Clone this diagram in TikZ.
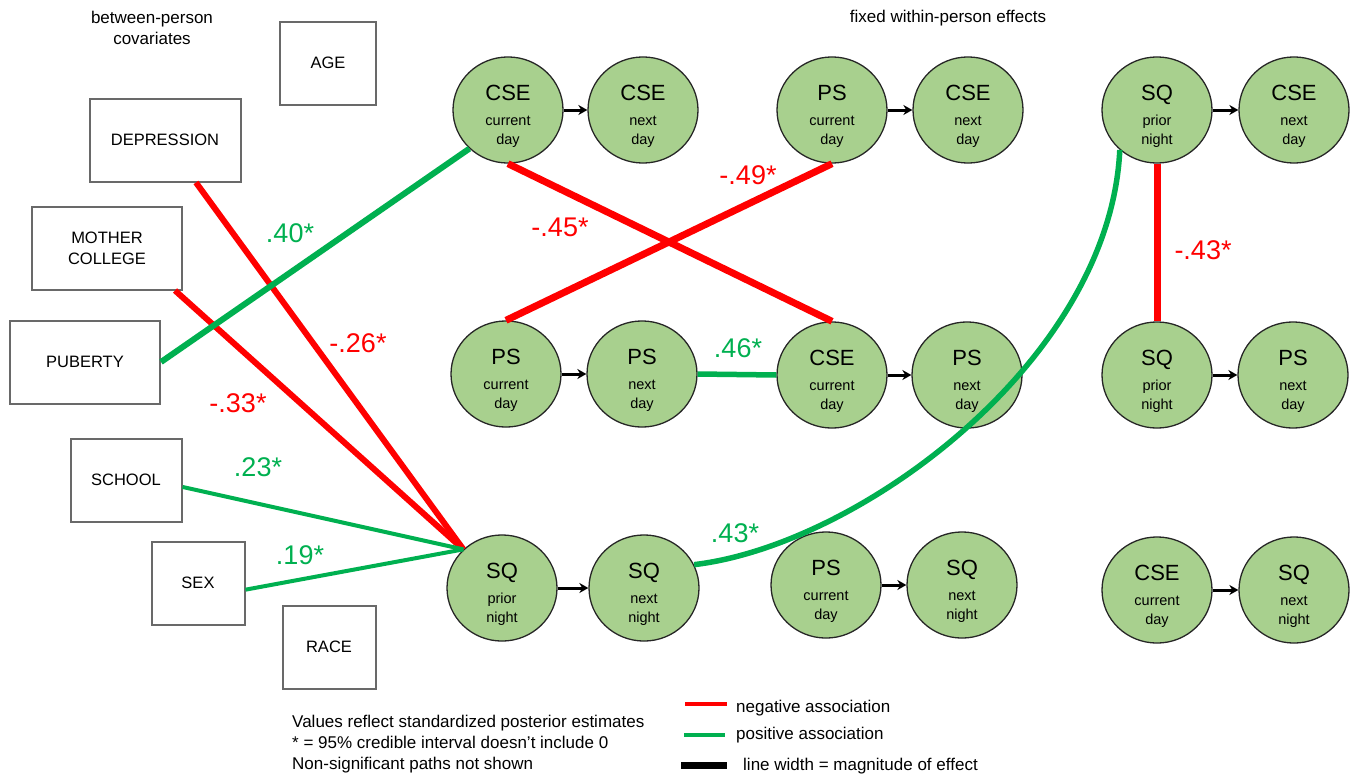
\documentclass[tikz,border=0pt]{standalone}
\usepackage{fontspec}
\setmainfont{Liberation Sans}
\usetikzlibrary{shapes.geometric,arrows.meta}
\definecolor{cfill}{RGB}{168,208,142}
\definecolor{pgreen}{RGB}{0,176,80}
\definecolor{nred}{RGB}{255,0,0}
\definecolor{boxgray}{RGB}{105,105,105}
\newcommand{\ntitle}[1]{{\fontsize{22}{22}\selectfont\rule{0pt}{28pt}#1}}
\begin{document}
\begin{tikzpicture}[x=1pt,y=-1pt,
 circ/.style={ellipse, draw=black!85, line width=1.3pt, fill=cfill, minimum width=110pt, minimum height=106pt, inner sep=0pt, align=center, font=\fontsize{14.5}{19}\selectfont},
 cov/.style={rectangle, draw=boxgray, line width=2pt, inner sep=0pt, align=center, minimum height=83pt, font=\fontsize{16.5}{21}\selectfont},
 lag/.style={draw=black, line width=3pt, -{Stealth[length=9pt,width=10pt]}},
 negline/.style={draw=nred, line width=#1},
 negline/.default=6pt,
 posline/.style={draw=pgreen, line width=#1},
 posline/.default=6pt,
 est/.style={font=\fontsize{27}{27}\selectfont, inner sep=0pt},
 note/.style={font=\fontsize{17}{21}\selectfont, inner sep=0pt}
]
\useasboundingbox (0,0) rectangle (1359,779);

% titles
\node[note, align=center] (t1) at (152,28) {between-person\\covariates};
\node[note] (t2) at (948,18) {fixed within-person effects};

% covariate boxes
\node[cov, minimum width=96pt] (age) at (328,63) {AGE};
\node[cov, minimum width=151pt] (dep) at (165,140) {DEPRESSION};
\node[cov, minimum width=150pt] (mc) at (107,248) {MOTHER\\COLLEGE};
\node[cov, minimum width=150pt] (pub) at (85,362) {PUBERTY};
\node[cov, minimum width=111pt] (sch) at (126,480) {SCHOOL};
\node[cov, minimum width=93pt] (sex) at (198,583) {SEX};
\node[cov, minimum width=93pt] (race) at (329,647) {RACE};

% within-person nodes, row 1
\node[circ] (a1) at (508,110) {\ntitle{CSE}\\[6pt]current\\day};
\node[circ] (a2) at (643,110) {\ntitle{CSE}\\[6pt]next\\day};
\node[circ] (b1) at (832,110) {\ntitle{PS}\\[6pt]current\\day};
\node[circ] (b2) at (968,110) {\ntitle{CSE}\\[6pt]next\\day};
\node[circ] (c1) at (1157,110) {\ntitle{SQ}\\[6pt]prior\\night};
\node[circ] (c2) at (1294,110) {\ntitle{CSE}\\[6pt]next\\day};
% row 2
\node[circ] (d1) at (506,374) {\ntitle{PS}\\[6pt]current\\day};
\node[circ] (d2) at (642,374) {\ntitle{PS}\\[6pt]next\\day};
\node[circ] (e1) at (832,375) {\ntitle{CSE}\\[6pt]current\\day};
\node[circ] (e2) at (967,375) {\ntitle{PS}\\[6pt]next\\day};
\node[circ] (f1) at (1157,375) {\ntitle{SQ}\\[6pt]prior\\night};
\node[circ] (f2) at (1293,375) {\ntitle{PS}\\[6pt]next\\day};
% row 3
\node[circ] (g1) at (502,588) {\ntitle{SQ}\\[6pt]prior\\night};
\node[circ] (g2) at (644,588) {\ntitle{SQ}\\[6pt]next\\night};
\node[circ] (h1) at (826,585) {\ntitle{PS}\\[6pt]current\\day};
\node[circ] (h2) at (962,585) {\ntitle{SQ}\\[6pt]next\\night};
\node[circ] (i1) at (1157,590) {\ntitle{CSE}\\[6pt]current\\day};
\node[circ] (i2) at (1294,590) {\ntitle{SQ}\\[6pt]next\\night};

% lagged arrows
\foreach \s/\t in {a1/a2,b1/b2,c1/c2,d1/d2,e1/e2,f1/f2,g1/g2,h1/h2,i1/i2}
  \draw[lag] (\s.east) -- (\t.west);

% between-person paths
\coordinate (conv) at (g1.135);
\draw[negline=6pt] (dep) -- (conv);
\draw[negline=6pt] (mc.-32) -- (conv);
\draw[posline=4pt] (sch.-7) -- (conv);
\draw[posline=4pt] (sex.-8) -- (conv);
\draw[posline=6pt] (pub.east) -- (a1.225);

% within-person paths
\draw[negline=7pt] (b1.south) -- (d1.north);
\draw[negline=7pt] (a1.south) -- (e1.north);
\draw[posline=5.5pt] (d2.east) -- (e1.west);
\draw[negline=7pt] (c1.south) -- (f1.north);
\draw[posline=5.5pt] (g2.25) .. controls (860,545) and (1110,360) .. (c1.227);

% estimates
\node[est, text=pgreen] (l40) at (290,233) {.40*};
\node[est, text=nred] (l26) at (358,343) {-.26*};
\node[est, text=nred] (l33) at (238,403) {-.33*};
\node[est, text=pgreen] (l23) at (258,467) {.23*};
\node[est, text=pgreen] (l19) at (300,555) {.19*};
\node[est, text=nred] (l45) at (560,227) {-.45*};
\node[est, text=nred] (l49) at (748,175) {-.49*};
\node[est, text=pgreen] (l46) at (738,348) {.46*};
\node[est, text=pgreen] (l43a) at (735,533) {.43*};
\node[est, text=nred] (l43b) at (1203,250) {-.43*};

% notes
\node[note, align=left, anchor=west] (n1) at (292,744) {Values reflect standardized posterior estimates\\* = 95\% credible interval doesn't include 0\\Non-significant paths not shown};

% legend
\coordinate (r1) at (685,704); \coordinate (r2) at (727,704);
\coordinate (g1l) at (684,735); \coordinate (g2l) at (725,735);
\coordinate (k1) at (681,765); \coordinate (k2) at (727,765);
\draw[negline=4pt] (r1) -- (r2);
\draw[posline=4pt] (g1l) -- (g2l);
\draw[black, line width=7pt] (k1) -- (k2);
\node[note, anchor=west] (lg1) at (736,708) {negative association};
\node[note, anchor=west] (lg2) at (736,735) {positive association};
\node[note, anchor=west] (lg3) at (743,766) {line width = magnitude of effect};
\end{tikzpicture}
\end{document}
